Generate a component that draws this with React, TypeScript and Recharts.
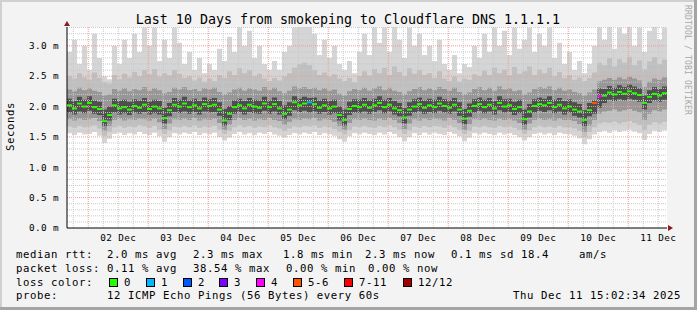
import {
  ComposedChart,
  Area,
  Scatter,
  XAxis,
  YAxis,
  CartesianGrid,
  ReferenceLine,
  ReferenceDot
} from 'recharts';

const FONT = '"DejaVu Sans Mono", monospace';

// one column = 2 hours, chart starts Dec 1 ~15:30
const STEP_H = 2;
const COL_PX = 5;
const FIRST_MIDNIGHT_H = 8.5;

// median rtt (ms)
const medianRtt = [
  2.02, 1.97, 2.05, 2.0, 2.06, 1.99, 1.96, 1.76, 1.86, 2.02, 1.97, 1.99,
  1.95, 2.01, 1.98, 2.03, 1.96, 2.0, 1.97, 1.81, 1.94, 2.03, 2.0, 2.05,
  1.99, 2.02, 1.97, 2.04, 2.01, 2.03, 1.95, 1.77, 1.88, 1.99, 2.02, 1.97,
  2.03, 2.0, 1.98, 2.05, 1.99, 2.04, 1.97, 1.88, 1.95, 2.07, 2.02, 2.05,
  2.07, 2.04, 1.98, 2.02, 1.97, 2.0, 1.86, 1.78, 1.96, 2.01, 1.99, 2.03,
  1.98, 2.02, 2.06, 1.99, 2.03, 1.97, 1.94, 1.82, 1.95, 2.0, 2.04, 1.98,
  2.02, 1.99, 2.05, 2.01, 1.98, 2.03, 1.95, 1.8, 1.93, 2.01, 2.04, 1.99,
  2.03, 1.97, 2.06, 2.0, 2.02, 1.96, 1.99, 1.79, 1.92, 2.01, 2.04, 2.02,
  2.06, 1.99, 2.03, 1.97, 2.0, 1.95, 1.92, 1.78, 1.94, 2.06, 2.17, 2.18,
  2.23, 2.2, 2.24, 2.21, 2.25, 2.22, 2.19, 2.06, 2.16, 2.21, 2.18, 2.22
];

// lost pings out of 12 per column
const lossCount = [
  0, 0, 0, 0, 0, 0, 0, 0, 0, 0, 0, 0,
  0, 0, 0, 0, 0, 0, 0, 0, 0, 0, 0, 0,
  0, 0, 0, 0, 0, 0, 0, 0, 0, 0, 0, 0,
  0, 0, 0, 0, 0, 0, 0, 0, 0, 0, 0, 0,
  1, 0, 0, 0, 0, 0, 0, 0, 0, 0, 0, 0,
  0, 0, 0, 0, 0, 0, 0, 0, 0, 0, 0, 0,
  0, 0, 0, 0, 0, 0, 0, 0, 0, 0, 0, 0,
  0, 0, 0, 0, 0, 0, 0, 0, 0, 0, 0, 0,
  0, 0, 0, 0, 0, 0, 0, 0, 0, 5, 4, 0,
  0, 0, 0, 0, 0, 0, 0, 0, 0, 0, 0, 0
];

// smoke: fastest / slowest ping
const minPing = [
  1.56, 1.53, 1.57, 1.54, 1.55, 1.58, 1.52, 1.4, 1.47, 1.55, 1.57, 1.53,
  1.56, 1.54, 1.58, 1.55, 1.53, 1.57, 1.51, 1.42, 1.5, 1.56, 1.54, 1.57,
  1.55, 1.58, 1.53, 1.56, 1.54, 1.57, 1.5, 1.44, 1.49, 1.55, 1.58, 1.54,
  1.56, 1.53, 1.57, 1.55, 1.58, 1.54, 1.52, 1.49, 1.53, 1.56, 1.54, 1.57,
  1.55, 1.58, 1.53, 1.56, 1.54, 1.52, 1.46, 1.42, 1.51, 1.56, 1.54, 1.57,
  1.55, 1.53, 1.57, 1.54, 1.58, 1.55, 1.5, 1.43, 1.5, 1.56, 1.53, 1.57,
  1.54, 1.57, 1.55, 1.53, 1.58, 1.55, 1.51, 1.43, 1.49, 1.56, 1.54, 1.57,
  1.55, 1.53, 1.57, 1.54, 1.56, 1.53, 1.5, 1.44, 1.5, 1.55, 1.57, 1.54,
  1.56, 1.53, 1.57, 1.55, 1.54, 1.52, 1.48, 1.38, 1.46, 1.54, 1.58, 1.6,
  1.57, 1.61, 1.58, 1.6, 1.62, 1.59, 1.56, 1.45, 1.55, 1.6, 1.58, 1.61
];
const maxPing = [
  2.9, 3.1, 2.7, 3.0, 2.6, 3.2, 2.8, 2.5, 2.45, 3.0, 2.7, 3.1,
  2.8, 3.2, 2.9, 3.3, 3.0, 3.3, 2.75, 3.1, 2.8, 3.3, 3.05, 2.7,
  2.9, 2.6, 2.8, 2.55, 2.7, 2.6, 2.95, 2.75, 3.15, 2.9, 3.3, 3.0,
  3.25, 2.8, 3.0, 2.7, 2.6, 2.75, 2.6, 2.9, 3.0, 3.3, 3.31, 3.31,
  3.31, 3.2, 2.85, 3.1, 2.8, 3.0, 2.7, 2.6, 2.75, 2.55, 2.9, 3.2,
  2.85, 3.3, 3.05, 3.3, 2.9, 3.31, 3.1, 2.8, 3.3, 3.0, 3.2, 2.85,
  3.0, 2.75, 3.1, 2.7, 2.6, 2.85, 2.55, 2.7, 2.65, 3.0, 2.8, 3.2,
  2.9, 3.3, 3.0, 3.25, 2.85, 3.3, 2.95, 3.1, 3.3, 2.9, 3.2, 3.0,
  3.3, 2.8, 3.05, 2.7, 2.9, 2.6, 2.75, 2.55, 2.7, 3.0, 3.3, 3.1,
  3.31, 2.95, 3.3, 3.2, 3.31, 3.0, 3.3, 2.9, 3.25, 3.31, 3.1, 3.3
];

// smoke: 2nd fastest / 2nd slowest
const band2Lo = [
  1.67, 1.65, 1.68, 1.66, 1.67, 1.69, 1.64, 1.52, 1.58, 1.66, 1.68, 1.65,
  1.67, 1.66, 1.69, 1.67, 1.65, 1.68, 1.62, 1.55, 1.61, 1.67, 1.66, 1.68,
  1.66, 1.69, 1.65, 1.67, 1.66, 1.68, 1.62, 1.55, 1.6, 1.66, 1.69, 1.66,
  1.68, 1.65, 1.67, 1.66, 1.69, 1.66, 1.64, 1.6, 1.64, 1.67, 1.66, 1.68,
  1.67, 1.69, 1.65, 1.67, 1.66, 1.63, 1.58, 1.54, 1.62, 1.67, 1.66, 1.68,
  1.66, 1.65, 1.68, 1.66, 1.69, 1.66, 1.62, 1.55, 1.61, 1.67, 1.65, 1.68,
  1.66, 1.68, 1.67, 1.65, 1.69, 1.66, 1.62, 1.55, 1.6, 1.67, 1.66, 1.68,
  1.66, 1.65, 1.68, 1.66, 1.67, 1.65, 1.62, 1.55, 1.61, 1.66, 1.68, 1.66,
  1.67, 1.65, 1.68, 1.66, 1.66, 1.64, 1.6, 1.5, 1.58, 1.66, 1.72, 1.74,
  1.73, 1.75, 1.72, 1.74, 1.76, 1.73, 1.7, 1.62, 1.7, 1.74, 1.72, 1.75
];
const band2Hi = [
  2.5, 2.46, 2.55, 2.48, 2.44, 2.56, 2.47, 2.4, 2.38, 2.52, 2.45, 2.54,
  2.48, 2.57, 2.5, 2.6, 2.53, 2.62, 2.49, 2.55, 2.51, 2.6, 2.54, 2.47,
  2.5, 2.43, 2.48, 2.41, 2.46, 2.42, 2.52, 2.47, 2.58, 2.52, 2.63, 2.55,
  2.6, 2.5, 2.54, 2.46, 2.42, 2.47, 2.43, 2.5, 2.55, 2.64, 2.7, 2.72,
  2.68, 2.6, 2.52, 2.56, 2.49, 2.53, 2.46, 2.42, 2.47, 2.4, 2.5, 2.58,
  2.51, 2.62, 2.55, 2.64, 2.52, 2.66, 2.57, 2.5, 2.63, 2.54, 2.6, 2.52,
  2.55, 2.47, 2.58, 2.46, 2.42, 2.49, 2.41, 2.46, 2.44, 2.53, 2.5, 2.59,
  2.52, 2.64, 2.55, 2.61, 2.51, 2.65, 2.54, 2.58, 2.66, 2.52, 2.61, 2.55,
  2.64, 2.5, 2.57, 2.47, 2.52, 2.44, 2.48, 2.42, 2.47, 2.56, 2.72, 2.68,
  2.8, 2.66, 2.78, 2.72, 2.82, 2.68, 2.76, 2.62, 2.74, 2.81, 2.7, 2.77
];

// smoke: 3rd fastest / 3rd slowest
const band3Lo = [
  1.79, 1.77, 1.8, 1.78, 1.79, 1.81, 1.76, 1.6, 1.68, 1.78, 1.8, 1.77,
  1.79, 1.78, 1.8, 1.79, 1.77, 1.8, 1.74, 1.63, 1.72, 1.79, 1.78, 1.8,
  1.78, 1.81, 1.77, 1.79, 1.78, 1.8, 1.73, 1.62, 1.7, 1.78, 1.81, 1.78,
  1.8, 1.77, 1.79, 1.78, 1.81, 1.78, 1.76, 1.7, 1.75, 1.79, 1.78, 1.8,
  1.79, 1.81, 1.77, 1.79, 1.78, 1.75, 1.68, 1.62, 1.73, 1.79, 1.78, 1.8,
  1.78, 1.77, 1.8, 1.78, 1.81, 1.78, 1.73, 1.63, 1.72, 1.79, 1.77, 1.8,
  1.78, 1.8, 1.79, 1.77, 1.81, 1.78, 1.73, 1.62, 1.71, 1.79, 1.78, 1.8,
  1.78, 1.77, 1.8, 1.78, 1.79, 1.77, 1.73, 1.62, 1.72, 1.78, 1.8, 1.78,
  1.79, 1.77, 1.8, 1.78, 1.78, 1.76, 1.71, 1.58, 1.69, 1.78, 1.88, 1.92,
  1.93, 1.95, 1.92, 1.94, 1.96, 1.93, 1.9, 1.78, 1.88, 1.94, 1.92, 1.95
];
const band3Hi = [
  2.28, 2.25, 2.31, 2.27, 2.3, 2.26, 2.24, 2.18, 2.2, 2.29, 2.26, 2.3,
  2.25, 2.29, 2.27, 2.32, 2.26, 2.3, 2.27, 2.22, 2.24, 2.31, 2.28, 2.32,
  2.27, 2.29, 2.25, 2.3, 2.28, 2.31, 2.24, 2.2, 2.23, 2.28, 2.31, 2.26,
  2.3, 2.28, 2.26, 2.32, 2.27, 2.31, 2.25, 2.22, 2.26, 2.33, 2.3, 2.32,
  2.29, 2.31, 2.27, 2.3, 2.26, 2.28, 2.21, 2.18, 2.25, 2.29, 2.27, 2.31,
  2.26, 2.3, 2.33, 2.27, 2.31, 2.26, 2.24, 2.2, 2.25, 2.29, 2.32, 2.27,
  2.3, 2.27, 2.32, 2.29, 2.26, 2.31, 2.24, 2.2, 2.23, 2.29, 2.32, 2.27,
  2.31, 2.26, 2.33, 2.28, 2.3, 2.25, 2.27, 2.2, 2.23, 2.29, 2.32, 2.3,
  2.33, 2.27, 2.31, 2.26, 2.28, 2.24, 2.22, 2.18, 2.23, 2.28, 2.42, 2.44,
  2.47, 2.44, 2.48, 2.45, 2.49, 2.46, 2.43, 2.32, 2.41, 2.46, 2.44, 2.48
];

// smoke: inner pings around the median
const band4Lo = [
  1.9, 1.87, 1.92, 1.89, 1.93, 1.88, 1.86, 1.68, 1.77, 1.9, 1.87, 1.89,
  1.86, 1.9, 1.88, 1.91, 1.87, 1.89, 1.87, 1.72, 1.84, 1.91, 1.89, 1.92,
  1.88, 1.91, 1.87, 1.92, 1.9, 1.91, 1.85, 1.69, 1.78, 1.88, 1.91, 1.87,
  1.91, 1.89, 1.88, 1.93, 1.88, 1.92, 1.87, 1.79, 1.85, 1.94, 1.91, 1.93,
  1.9, 1.92, 1.88, 1.91, 1.87, 1.89, 1.77, 1.69, 1.86, 1.9, 1.89, 1.92,
  1.88, 1.91, 1.94, 1.89, 1.92, 1.87, 1.84, 1.72, 1.85, 1.9, 1.92, 1.88,
  1.91, 1.89, 1.93, 1.9, 1.88, 1.92, 1.85, 1.71, 1.83, 1.9, 1.93, 1.89,
  1.92, 1.87, 1.94, 1.9, 1.91, 1.86, 1.89, 1.7, 1.82, 1.9, 1.93, 1.91,
  1.94, 1.89, 1.92, 1.87, 1.9, 1.85, 1.82, 1.68, 1.84, 1.88, 1.98, 2.06,
  2.11, 2.09, 2.12, 2.1, 2.13, 2.11, 2.08, 1.95, 2.06, 2.1, 2.08, 2.11
];
const band4Hi = [
  2.13, 2.09, 2.16, 2.11, 2.17, 2.1, 2.08, 1.95, 2.0, 2.13, 2.09, 2.11,
  2.08, 2.12, 2.1, 2.14, 2.08, 2.11, 2.09, 1.98, 2.06, 2.14, 2.11, 2.16,
  2.1, 2.13, 2.09, 2.15, 2.12, 2.14, 2.07, 1.96, 2.01, 2.1, 2.13, 2.09,
  2.14, 2.11, 2.1, 2.16, 2.1, 2.15, 2.09, 2.02, 2.07, 2.17, 2.13, 2.16,
  2.14, 2.15, 2.1, 2.13, 2.09, 2.11, 2.0, 1.95, 2.08, 2.12, 2.11, 2.14,
  2.1, 2.13, 2.17, 2.11, 2.14, 2.09, 2.06, 1.97, 2.07, 2.12, 2.15, 2.1,
  2.13, 2.11, 2.16, 2.12, 2.1, 2.14, 2.07, 1.96, 2.05, 2.12, 2.15, 2.11,
  2.14, 2.09, 2.17, 2.12, 2.13, 2.08, 2.11, 1.95, 2.04, 2.12, 2.15, 2.13,
  2.17, 2.11, 2.14, 2.09, 2.12, 2.07, 2.04, 1.94, 2.06, 2.1, 2.3, 2.29,
  2.34, 2.31, 2.35, 2.32, 2.36, 2.33, 2.3, 2.18, 2.27, 2.32, 2.29, 2.33
];

const dayLabels = ['02 Dec', '03 Dec', '04 Dec', '05 Dec', '06 Dec', '07 Dec', '08 Dec', '09 Dec', '10 Dec', '11 Dec'];
const yTicks = [0, 0.5, 1.0, 1.5, 2.0, 2.5, 3.0];
const Y_MAX = 3.31;
const X_MAX = medianRtt.length * STEP_H;

const lossLegend = [
  { label: '0', color: '#26ff00' },
  { label: '1', color: '#00b8ff' },
  { label: '2', color: '#0059ff' },
  { label: '3', color: '#7e00ff' },
  { label: '4', color: '#ff00ff' },
  { label: '5-6', color: '#ff5500' },
  { label: '7-11', color: '#ff0000' },
  { label: '12/12', color: '#a10000' }
];

const bucketOf = (n: number) => (n <= 4 ? n : n <= 6 ? 5 : n <= 11 ? 6 : 7);

const rows = medianRtt.map((m, i) => ({
  t: i * STEP_H,
  median: m,
  loss: lossCount[i],
  a: [minPing[i], maxPing[i]],
  b: [band2Lo[i], band2Hi[i]],
  c: [band3Lo[i], band3Hi[i]],
  d: [band4Lo[i], band4Hi[i]]
}));
// close the last step
const smokeRows = [...rows, { ...rows[rows.length - 1], t: X_MAX }];

const noonTicks = dayLabels.map((_, k) => FIRST_MIDNIGHT_H + 12 + 24 * k);
const hGrid = Array.from({ length: 33 }, (_, k) => (k + 1) / 10);
const vGrid = Array.from({ length: 40 }, (_, k) => FIRST_MIDNIGHT_H - 6 + 6 * k).filter((t) => t < X_MAX);

const MINOR = '#c8c8c8';
const MAJOR = '#f29a9a';

const smoke = [
  { key: 'a', fill: '#d5d5d5' },
  { key: 'b', fill: '#bfbfbf' },
  { key: 'c', fill: '#979797' },
  { key: 'd', fill: '#4e4e4e' }
];

const MedianMark = (props: any) => {
  const { cx, cy, payload } = props;
  if (cx == null || cy == null) return null;
  return <rect x={cx} y={cy - 1} width={COL_PX} height={2} fill={lossLegend[bucketOf(payload.loss)].color} />;
};

const legendFont = { fontFamily: FONT, fontSize: 10.67, letterSpacing: 0.58 };

export default function App() {
  return (
    <div style={{ position: 'absolute', left: 0, top: 0, width: 697, height: 310, background: '#f3f3f3', overflow: 'hidden' }}>
      <ComposedChart
        width={697}
        height={310}
        data={smokeRows}
        margin={{ top: 27, right: 30, left: 0, bottom: 0 }}
        style={{ position: 'absolute', left: 0, top: 0 }}
      >
        <CartesianGrid horizontal={false} vertical={false} fill="#ffffff" />
        <XAxis
          dataKey="t"
          type="number"
          domain={[0, X_MAX]}
          ticks={noonTicks}
          tickFormatter={(v: number) => dayLabels[Math.round((v - FIRST_MIDNIGHT_H - 12) / 24)]}
          height={82}
          tickSize={0}
          tickMargin={6}
          axisLine={{ stroke: '#000' }}
          tick={{ fontFamily: FONT, fontSize: 9.33, letterSpacing: 0.38, fill: '#000' }}
        />
        <YAxis
          type="number"
          domain={[0, Y_MAX]}
          ticks={yTicks}
          allowDataOverflow
          tickFormatter={(v: number) => `${v.toFixed(1)} m`}
          width={67}
          tickSize={0}
          tickMargin={8}
          axisLine={{ stroke: '#000' }}
          tick={{ fontFamily: FONT, fontSize: 9.33, letterSpacing: 0.38, fill: '#000' }}
        />
        {smoke.map((s) => (
          <Area
            key={s.key}
            type="stepAfter"
            dataKey={s.key}
            stroke="none"
            fill={s.fill}
            fillOpacity={1}
            dot={false}
            activeDot={false}
            isAnimationActive={false}
          />
        ))}
        {hGrid.map((v) => (
          <ReferenceLine
            key={`h${v}`}
            y={v}
            stroke={Math.round(v * 10) % 5 === 0 ? MAJOR : MINOR}
            strokeDasharray="1 1"
          />
        ))}
        {vGrid.map((t) => (
          <ReferenceLine
            key={`v${t}`}
            x={t}
            stroke={(t - FIRST_MIDNIGHT_H) % 24 === 0 ? MAJOR : MINOR}
            strokeDasharray="1 1"
          />
        ))}
        <Scatter data={rows} dataKey="median" shape={MedianMark} isAnimationActive={false} />
        <ReferenceDot
          x={X_MAX}
          y={0}
          ifOverflow="visible"
          shape={(p: any) => (
            <polygon points={`${p.cx + 1},${p.cy - 3} ${p.cx + 1},${p.cy + 3} ${p.cx + 6},${p.cy}`} fill="#8b1a1a" />
          )}
        />
        <ReferenceDot
          x={0}
          y={Y_MAX}
          ifOverflow="visible"
          shape={(p: any) => (
            <polygon points={`${p.cx - 3},${p.cy - 1} ${p.cx + 3},${p.cy - 1} ${p.cx},${p.cy - 6}`} fill="#8b1a1a" />
          )}
        />
      </ComposedChart>

      <svg width={697} height={310} style={{ position: 'absolute', left: 0, top: 0, pointerEvents: 'none' }}>
        <text x={348} y={24} textAnchor="middle" fontFamily={FONT} fontSize={13.3} fill="#000">
          Last 10 Days from smokeping to Cloudflare DNS 1.1.1.1
        </text>
        <text transform="translate(14,126.5) rotate(-90)" textAnchor="middle" fill="#000" style={legendFont}>
          Seconds
        </text>
        <text transform="translate(685,5) rotate(90)" fontFamily={FONT} fontSize={8} letterSpacing={0.18} fill="#a8a8a8">
          RRDTOOL / TOBI OETIKER
        </text>

        <g style={legendFont} fill="#000">
          <text x={16} y={258}>median rtt:</text>
          <text x={107} y={258}>2.0 ms avg</text>
          <text x={193} y={258}>2.3 ms max</text>
          <text x={283} y={258}>1.8 ms min</text>
          <text x={365} y={258}>2.3 ms now</text>
          <text x={451} y={258}>0.1 ms sd</text>
          <text x={521} y={258}>18.4</text>
          <text x={579} y={258}>am/s</text>

          <text x={16} y={271.7}>packet loss:</text>
          <text x={107} y={271.7}>0.11 % avg</text>
          <text x={193} y={271.7}>38.54 % max</text>
          <text x={286} y={271.7}>0.00 % min</text>
          <text x={368} y={271.7}>0.00 % now</text>

          <text x={16} y={285.5}>loss color:</text>
          {lossLegend.map((l, k) => {
            const bx = [109, 146, 183, 219, 256, 293, 344, 403][k];
            return (
              <g key={l.label}>
                <rect x={bx + 0.5} y={278.5} width={8} height={8} fill={l.color} stroke="#000" strokeWidth={1} />
                <text x={bx + 15} y={285.5}>{l.label}</text>
              </g>
            );
          })}

          <text x={16} y={299.3}>probe:</text>
          <text x={107} y={299.3}>12 ICMP Echo Pings (56 Bytes) every 60s</text>
          <text x={513} y={299.3}>Thu Dec 11 15:02:34 2025</text>
        </g>

        <rect x={0} y={0} width={697} height={2} fill="#d0d0d0" />
        <rect x={0} y={0} width={2} height={310} fill="#d0d0d0" />
        <rect x={0} y={307} width={697} height={3} fill="#a4a4a4" />
        <rect x={694} y={0} width={3} height={310} fill="#a4a4a4" />
      </svg>
    </div>
  );
}
